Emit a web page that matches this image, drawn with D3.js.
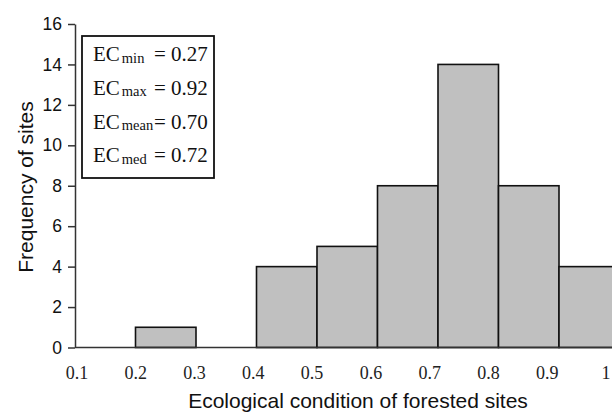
<!DOCTYPE html>
<html>
<head>
<meta charset="utf-8">
<script src="https://cdn.jsdelivr.net/npm/d3@7"></script>
<style>
  body { margin: 0; background: #fff; }
  svg { display: block; }
</style>
</head>
<body>
<svg width="612" height="412"></svg>
<script>
// histogram bins (lower edge) and site counts
var binStart = [0.2, 0.4, 0.5, 0.6, 0.7, 0.8, 0.9];
var counts = [1, 4, 5, 8, 14, 8, 4];
var binWidth = 0.1;

var xTicks = [0.1, 0.2, 0.3, 0.4, 0.5, 0.6, 0.7, 0.8, 0.9, 1];
var yTicks = [0, 2, 4, 6, 8, 10, 12, 14, 16];

var statNames = ["min", "max", "mean", "med"];
var statValues = ["0.27", "0.92", "0.70", "0.72"];

var svg = d3.select("svg");

var x = d3.scaleLinear().domain([0.1, 1.0]).range([75, 619.5]);
// tick labels in the original sit slightly left of the bin edges
var xLab = d3.scaleLinear().domain([0.1, 1.0]).range([77, 606]);
var y = d3.scaleLinear().domain([0, 16]).range([347.5, 24]);

// bars
svg.append("g")
    .selectAll("rect")
    .data(binStart)
    .enter().append("rect")
    .attr("x", function(d) { return x(d); })
    .attr("y", function(d, i) { return y(counts[i]); })
    .attr("width", function(d) { return x(d + binWidth) - x(d); })
    .attr("height", function(d, i) { return y(0) - y(counts[i]); })
    .attr("fill", "#c0c0c0")
    .attr("stroke", "#111")
    .attr("stroke-width", 1.6);

// x axis line
svg.append("line")
    .attr("x1", x(0.1)).attr("x2", 612)
    .attr("y1", y(0)).attr("y2", y(0))
    .attr("stroke", "#333").attr("stroke-width", 1.5);

// y axis
var yAxis = svg.append("g")
    .attr("transform", "translate(" + x(0.1) + ",0)")
    .call(d3.axisLeft(y).tickValues(yTicks).tickSize(7).tickSizeOuter(0).tickPadding(6));
yAxis.select(".domain").attr("stroke", "#333").attr("stroke-width", 1.5);
yAxis.selectAll(".tick line").attr("stroke", "#333").attr("stroke-width", 1.5);
yAxis.selectAll(".tick text")
    .attr("font-family", "'Liberation Sans', Arial, sans-serif")
    .attr("font-size", 17.5)
    .attr("fill", "#111");

// x tick labels
svg.append("g")
    .selectAll("text")
    .data(xTicks)
    .enter().append("text")
    .attr("x", function(d) { return xLab(d); })
    .attr("y", 379)
    .attr("text-anchor", "middle")
    .attr("font-family", "'Liberation Serif', 'Times New Roman', serif")
    .attr("font-size", 18)
    .attr("fill", "#222")
    .text(function(d) { return d === 1 ? "1" : d.toFixed(1); });

// axis titles
svg.append("text")
    .attr("x", 358)
    .attr("y", 408)
    .attr("text-anchor", "middle")
    .attr("font-family", "'Liberation Sans', Arial, sans-serif")
    .attr("font-size", 21)
    .attr("fill", "#111")
    .text("Ecological condition of forested sites");

svg.append("text")
    .attr("transform", "translate(33,187) rotate(-90)")
    .attr("text-anchor", "middle")
    .attr("font-family", "'Liberation Sans', Arial, sans-serif")
    .attr("font-size", 21)
    .attr("fill", "#111")
    .text("Frequency of sites");

// stats box
var box = svg.append("g");
box.append("rect")
    .attr("x", 82).attr("y", 36)
    .attr("width", 132).attr("height", 142)
    .attr("fill", "#fff")
    .attr("stroke", "#111")
    .attr("stroke-width", 1.8);

var rows = box.selectAll("g.row")
    .data(statNames)
    .enter().append("g")
    .attr("class", "row")
    .attr("transform", function(d, i) { return "translate(0," + (61 + i * 33.8) + ")"; })
    .attr("font-family", "'Liberation Serif', 'Times New Roman', serif")
    .attr("fill", "#111");

var lbl = rows.append("text")
    .attr("x", 93)
    .attr("font-size", 21);
lbl.append("tspan").text("EC");
lbl.append("tspan")
    .attr("dx", 2)
    .attr("dy", 1.5)
    .attr("font-size", 14.5)
    .text(function(d) { return d; });

rows.append("text")
    .attr("x", 154)
    .attr("font-size", 21)
    .text(function(d, i) { return "= " + statValues[i]; });
</script>
</body>
</html>
